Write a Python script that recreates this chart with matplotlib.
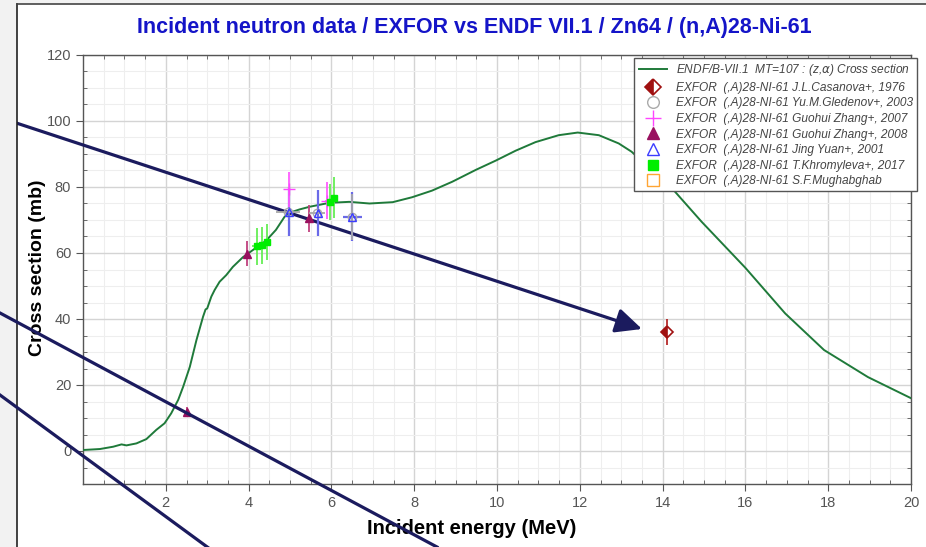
import matplotlib
matplotlib.use("Agg")
import matplotlib.pyplot as plt
from matplotlib.patches import Rectangle
from matplotlib.lines import Line2D
import numpy as np

# === Data ===
# ENDF/B-VII.1 evaluated cross section (MeV, mb)
endf_e = [0.0, 0.41, 0.73, 0.93, 1.05, 1.29, 1.53, 1.77, 1.97, 2.13, 2.30, 2.42,
          2.58, 2.74, 2.90, 2.96, 3.00, 3.10, 3.18, 3.30, 3.46, 3.62, 3.86, 4.27,
          4.42, 4.66, 4.87, 4.99, 5.23, 5.47, 5.95, 6.43, 6.92, 7.48, 7.95, 8.43,
          8.92, 9.49, 9.97, 10.45, 10.93, 11.49, 11.95, 12.46, 12.94, 13.25, 14.27,
          14.94, 16.0, 16.96, 17.9, 18.96, 20.0]
endf_xs = [0.3, 0.6, 1.3, 2.0, 1.7, 2.3, 3.6, 6.4, 8.4, 11.4, 15.5, 19.5,
           25.5, 33.6, 40.7, 42.9, 43.2, 46.8, 48.8, 51.3, 53.3, 55.8, 58.7, 62.4,
           63.7, 67.0, 71.0, 72.2, 73.2, 74.0, 75.2, 75.5, 75.0, 75.4, 76.9, 78.9,
           81.6, 85.2, 88.0, 91.0, 93.6, 95.7, 96.5, 95.7, 93.2, 90.7, 79.0,
           69.5, 55.5, 41.7, 30.6, 22.4, 16.0]

# EXFOR measurements
casanova_e, casanova_xs, casanova_dxs = [14.1], [36.1], [4.0]

gledenov_e = [4.95, 5.65, 6.5]
gledenov_xs = [72.5, 72.2, 71.0]
gledenov_de = [0.3, 0.2, 0.0]
gledenov_dxs = [0.0, 0.0, 7.0]

zhang07_e = [4.97, 5.9]
zhang07_xs = [79.3, 75.9]
zhang07_de = [0.0, 0.06]
zhang07_dxs = [5.3, 5.7]

zhang08_e = [2.5, 3.95, 5.45]
zhang08_xs = [11.8, 59.8, 70.5]
zhang08_dxs = [1.5, 3.8, 4.0]

yuan_e = [4.97, 5.67, 6.5]
yuan_xs = [72.5, 72.2, 71.0]
yuan_de = [0.0, 0.0, 0.23]
yuan_dxs = [7.5, 7.0, 7.5]

khrom_e = [4.2, 4.32, 4.45, 5.97, 6.07]
khrom_xs = [62.0, 62.3, 63.4, 75.5, 76.8]
khrom_de = [0.12, 0.0, 0.0, 0.0, 0.0]
khrom_dxs = [5.5, 5.5, 5.5, 5.5, 6.3]

x_ticks = [2, 4, 6, 8, 10, 12, 14, 16, 18, 20]
y_ticks = [0, 20, 40, 60, 80, 100, 120]

sans = ["Liberation Sans", "DejaVu Sans"]

# === Figure ===
W, H = 926, 547
fig = plt.figure(figsize=(W / 100, H / 100), dpi=100)

# screenshot frame: grey margin with dark border
fig.patches.append(Rectangle((0, 0), 17 / W, 1, transform=fig.transFigure,
                             facecolor="#f2f2f2", edgecolor="none", zorder=0))
fig.patches.append(Rectangle((0, 1 - 4 / H), 1, 4 / H, transform=fig.transFigure,
                             facecolor="#f2f2f2", edgecolor="none", zorder=0))
fig.add_artist(Line2D([17 / W, 17 / W], [0, 1 - 4 / H], color="#222222", lw=1.2))
fig.add_artist(Line2D([17 / W, 1], [1 - 4 / H, 1 - 4 / H], color="#444444", lw=1.2))

ax = fig.add_axes([83 / W, 1 - 484 / H, (911 - 83) / W, (484 - 55) / H])

ax.plot(endf_e, endf_xs, color="#1f7a3a", lw=1.4, zorder=3,
        label=r"ENDF/B-VII.1  MT=107 : (z,$\alpha$) Cross section")

# error bars
ax.errorbar(zhang08_e, zhang08_xs, yerr=zhang08_dxs, fmt="none",
            ecolor="#c0407e", elinewidth=1.3, zorder=4)
ax.errorbar(yuan_e, yuan_xs, xerr=yuan_de, yerr=yuan_dxs, fmt="none",
            ecolor="#6a6ae8", elinewidth=1.6, zorder=4)
ax.errorbar(gledenov_e, gledenov_xs, xerr=gledenov_de, yerr=gledenov_dxs,
            fmt="none", ecolor="#a8a8a8", elinewidth=1.3, zorder=5)
ax.errorbar(zhang07_e, zhang07_xs, xerr=zhang07_de, yerr=zhang07_dxs,
            fmt="none", ecolor="#ff5cff", elinewidth=1.3, zorder=5)
ax.errorbar(khrom_e, khrom_xs, xerr=khrom_de, yerr=khrom_dxs, fmt="none",
            ecolor="#66ee55", elinewidth=1.3, zorder=5)
ax.errorbar(casanova_e, casanova_xs, yerr=casanova_dxs, fmt="none",
            ecolor="#b01818", elinewidth=1.2, zorder=5)

# markers (used for legend too)
ax.plot(casanova_e, casanova_xs, ls="none", marker="D", ms=6,
        mec="#a01010", mfc="#a01010", fillstyle="left", markerfacecoloralt="white",
        mew=1.2, zorder=6, label="EXFOR  (,A)28-NI-61 J.L.Casanova+, 1976")
ax.plot(gledenov_e, gledenov_xs, ls="none", marker="o", ms=6, mfc="none",
        mec="#aaaaaa", mew=1.0, zorder=6,
        label="EXFOR  (,A)28-NI-61 Yu.M.Gledenov+, 2003")
ax.plot(zhang07_e, zhang07_xs, ls="none", marker="+", ms=8, mec="#ff44ff",
        mew=1.0, zorder=6, label="EXFOR  (,A)28-NI-61 Guohui Zhang+, 2007")
ax.plot(zhang08_e, zhang08_xs, ls="none", marker="^", ms=6, mfc="#99115f",
        mec="#99115f", zorder=6, label="EXFOR  (,A)28-NI-61 Guohui Zhang+, 2008")
ax.plot(yuan_e, yuan_xs, ls="none", marker="^", ms=6, mfc="none",
        mec="#3c3cff", mew=1.0, zorder=6, label="EXFOR  (,A)28-NI-61 Jing Yuan+, 2001")
ax.plot(khrom_e, khrom_xs, ls="none", marker="s", ms=5, mfc="#00ee00",
        mec="#00ee00", zorder=6, label="EXFOR  (,A)28-NI-61 T.Khromyleva+, 2017")
ax.plot([], [], ls="none", marker="s", ms=6, mfc="none", mec="#ffa533",
        mew=1.0, label="EXFOR  (,A)28-NI-61 S.F.Mughabghab")

# axes styling
ax.set_xlim(0, 20)
ax.set_ylim(-10, 120)
ax.set_xticks(x_ticks)
ax.set_yticks(y_ticks)
ax.set_xticks(np.arange(0, 20.01, 0.5), minor=True)
ax.set_yticks(np.arange(-10, 120.01, 5), minor=True)
ax.grid(True, which="major", color="#d4d4d4", lw=1.0, zorder=0)
ax.grid(True, which="minor", color="#eeeeee", lw=0.8, zorder=0)
ax.set_axisbelow(True)
ax.tick_params(which="major", direction="out", length=5, color="#555555",
               labelcolor="#555555", labelsize=10.5)
ax.tick_params(which="minor", direction="in", length=3, color="#555555",
               top=True, right=True)
for lab in ax.get_xticklabels() + ax.get_yticklabels():
    lab.set_family(sans)
for sp in ax.spines.values():
    sp.set_color("#555555")
    sp.set_linewidth(1.0)

# titles and labels
fig.text(474 / W, 1 - 28 / H,
         "Incident neutron data / EXFOR vs ENDF VII.1 / Zn64 / (n,A)28-Ni-61",
         ha="center", va="center", fontsize=15.5, fontweight="bold",
         color="#1414c8", family=sans)
fig.text(38 / W, 1 - 268 / H, "Cross section (mb)", rotation=90,
         ha="center", va="center", fontsize=14, fontweight="bold", family=sans)
fig.text(472 / W, 1 - 528 / H, "Incident energy (MeV)", ha="center",
         va="center", fontsize=14.5, fontweight="bold", family=sans)

leg = ax.legend(loc="upper right", bbox_to_anchor=(917 / W, 1 - 58 / H),
                bbox_transform=fig.transFigure, borderaxespad=0, frameon=True,
                fancybox=False, framealpha=1, edgecolor="#555555", borderpad=0.35,
                labelspacing=0.3, handlelength=2.4, handletextpad=0.7,
                markerscale=1.4,
                prop={"family": sans, "style": "italic", "size": 8.6})
for t in leg.get_texts():
    t.set_color("#444444")
leg.get_frame().set_linewidth(1.0)
leg.set_zorder(10)

# overlay arrows / lines (screen annotations)
navy = "#1b1b5e"
ax.annotate("", xy=(642, H - 329), xycoords="figure pixels",
            xytext=(-5, H - 116), textcoords="figure pixels",
            arrowprops=dict(arrowstyle="-|>,head_length=1.6,head_width=0.75",
                            color=navy, lw=2.3, mutation_scale=10,
                            shrinkA=0, shrinkB=0),
            annotation_clip=False)
fig.add_artist(Line2D([0, 437 / W], [1 - 313 / H, 1 - 547 / H], color=navy,
                      lw=2.3, zorder=20))
fig.add_artist(Line2D([0, 210 / W], [1 - 395 / H, 1 - 549 / H], color=navy,
                      lw=2.3, zorder=20))

fig.savefig("out.png", dpi=100)
